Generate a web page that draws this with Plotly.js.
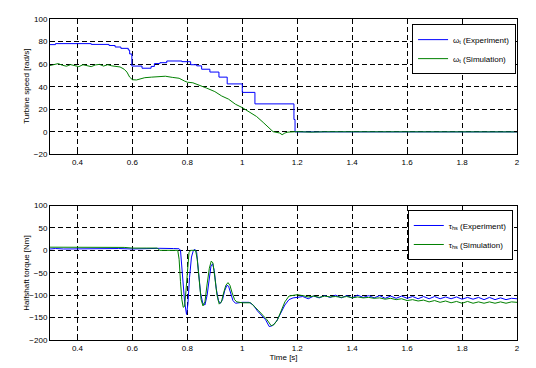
<!DOCTYPE html>
<html>
<head>
<meta charset="utf-8">
<script src="https://cdn.plot.ly/plotly-3.0.1.min.js"></script>
<style>html,body{margin:0;padding:0;background:#fff;}#chart{width:536px;height:368px;}</style>
</head>
<body>
<div id="chart"></div>
<script>
// ---- Top panel: turbine speed ----
var speedExpT = [0.3, 0.32, 0.45, 0.515, 0.537, 0.558, 0.585, 0.59, 0.598, 0.635, 0.668, 0.68, 0.70, 0.725, 0.78, 0.812, 0.834, 0.852, 0.882, 0.915, 0.945, 1.0, 1.046, 1.188, 1.192, 2.0];
var speedExpV = [77.3, 78.2, 77.5, 76.5, 75.2, 74, 72.5, 69, 58.3, 56.4, 58, 60.5, 61.3, 62.8, 62.2, 59.5, 58.5, 55.5, 53, 48.5, 42.5, 35, 24.8, 11, 0, 0];

var speedSimT = [0.30, 0.315, 0.33, 0.345, 0.36, 0.375, 0.39, 0.405, 0.42, 0.435, 0.45, 0.465, 0.48, 0.495, 0.51, 0.525, 0.54, 0.555, 0.57, 0.58, 0.59, 0.60, 0.615, 0.63, 0.645, 0.67, 0.70, 0.72, 0.745, 0.77, 0.79, 0.80, 0.82, 0.845, 0.87, 0.90, 0.925, 0.95, 0.975, 1.0, 1.028, 1.052, 1.076, 1.10, 1.112, 1.136, 1.145, 1.155, 1.166, 1.20, 1.25, 1.30, 2.0];
var speedSimV = [58.8, 59.5, 60.5, 59, 58.2, 59.6, 58.8, 57.8, 59.5, 58.5, 57.8, 59.3, 59.8, 58.3, 59.5, 58.5, 57.8, 57.5, 55.5, 53, 48.5, 46.2, 46, 46.8, 48, 48.5, 49, 49.3, 48.3, 47.5, 45, 44, 43.5, 41.3, 38.8, 35.7, 31.8, 29, 24.5, 21.5, 17, 13.6, 8.4, 3.5, 0.2, -1, -2.5, -1, -0.2, 0.2, -0.2, 0.1, 0];

// ---- Bottom panel: halfshaft torque ----
var torqueExpT = [0.30, 0.32, 0.35, 0.40, 0.45, 0.50, 0.55, 0.60, 0.65, 0.70, 0.75, 0.77, 0.775, 0.78, 0.785, 0.79, 0.797, 0.802, 0.808, 0.815, 0.822, 0.828, 0.834, 0.84, 0.848, 0.856, 0.864, 0.872, 0.88, 0.886, 0.892, 0.898, 0.905, 0.913, 0.92, 0.928, 0.936, 0.944, 0.95, 0.958, 0.966, 0.975, 0.985, 1.0, 1.025, 1.04, 1.055, 1.07, 1.085, 1.098, 1.11, 1.125, 1.14, 1.155, 1.17, 1.185, 1.20,
  1.22, 1.24, 1.26, 1.28, 1.30, 1.32, 1.34, 1.36, 1.38, 1.40, 1.42, 1.44, 1.46, 1.48, 1.50, 1.52, 1.54, 1.56, 1.58, 1.60, 1.62, 1.64, 1.66, 1.68, 1.70, 1.72, 1.74, 1.76, 1.78, 1.80, 1.82, 1.84, 1.86, 1.88, 1.90, 1.92, 1.94, 1.96, 1.98, 2.00];
var torqueExpV = [3, 4, 3, 3.5, 3, 3.5, 4, 3, 4, 4.5, 4, 3.5, 0, -40, -80, -115, -143, -120, -60, -15, 0, 2, -5, -45, -95, -118, -122, -100, -60, -35, -30, -45, -85, -112, -118, -110, -90, -78, -80, -95, -112, -118, -117, -116, -116, -122, -135, -145, -155, -170, -168, -158, -140, -122, -110, -106, -105,
  -103, -108, -102, -106, -101, -105, -100, -106, -101, -106, -100, -105, -101, -106, -101, -107, -102, -107, -102, -107, -103, -108, -103, -108, -103, -108, -104, -108, -104, -109, -105, -109, -105, -110, -105, -110, -106, -110, -107, -108];

var torqueSimT = [0.30, 0.35, 0.40, 0.45, 0.50, 0.54, 0.55, 0.57, 0.60, 0.62, 0.65, 0.69, 0.70, 0.765, 0.77, 0.775, 0.78, 0.785, 0.79, 0.795, 0.80, 0.806, 0.812, 0.83, 0.836, 0.843, 0.85, 0.857, 0.864, 0.872, 0.88, 0.887, 0.893, 0.90, 0.908, 0.916, 0.924, 0.932, 0.94, 0.948, 0.955, 0.963, 0.972, 0.98, 1.0, 1.03, 1.045, 1.06, 1.075, 1.09, 1.105, 1.115, 1.128, 1.14, 1.155, 1.17, 1.185, 1.20,
  1.22, 1.24, 1.26, 1.28, 1.30, 1.32, 1.34, 1.36, 1.38, 1.40, 1.42, 1.44, 1.46, 1.48, 1.50, 1.52, 1.54, 1.56, 1.58, 1.60, 1.62, 1.64, 1.66, 1.68, 1.70, 1.72, 1.74, 1.76, 1.78, 1.80, 1.82, 1.84, 1.86, 1.88, 1.90, 1.92, 1.94, 1.96, 1.98, 2.00];
var torqueSimV = [7, 7, 7, 7, 7, 7, 5.5, 6.5, 5, 5.5, 5, 5, 0, 0, -20, -70, -110, -127, -125, -90, -40, -5, 0, 0, -20, -70, -110, -124, -115, -75, -40, -24, -28, -60, -100, -120, -115, -95, -78, -72, -78, -95, -110, -115, -117, -117, -125, -135, -145, -155, -168, -166, -155, -138, -115, -102, -100, -99,
  -101, -104, -102, -105, -102, -104, -103, -105, -103, -106, -104, -106, -105, -107, -106, -109, -107, -110, -108, -112, -110, -113, -111, -115, -112, -116, -113, -117, -114, -118, -114, -118, -115, -118, -115, -118, -115, -118, -115, -116];

var speedTicks = [-20, 0, 20, 40, 60, 80, 100];
var torqueTicks = [-200, -150, -100, -50, 0, 50, 100];
var speedTitle = 'Turbine speed [rad/s]';
var torqueTitle = 'Halfshaft torque [Nm]';
var timeTitle = 'Time [s]';

var BLUE = '#0000ff', GREEN = '#008000';
var FONT = {family: 'Arial, Liberation Sans, sans-serif', size: 8, color: '#000'};

var traces = [
  {x: speedExpT, y: speedExpV, type: 'scatter', mode: 'lines', line: {color: BLUE, width: 1, shape: 'hv'}, name: 'ω<sub>t</sub> (Experiment)', xaxis: 'x', yaxis: 'y', legend: 'legend'},
  {x: speedSimT, y: speedSimV, type: 'scatter', mode: 'lines', line: {color: GREEN, width: 1}, name: 'ω<sub>t</sub> (Simulation)', xaxis: 'x', yaxis: 'y', legend: 'legend'},
  {x: torqueExpT, y: torqueExpV, type: 'scatter', mode: 'lines', line: {color: BLUE, width: 1}, name: 'τ<sub>hs</sub> (Experiment)', xaxis: 'x2', yaxis: 'y2', legend: 'legend2'},
  {x: torqueSimT, y: torqueSimV, type: 'scatter', mode: 'lines', line: {color: GREEN, width: 1}, name: 'τ<sub>hs</sub> (Simulation)', xaxis: 'x2', yaxis: 'y2', legend: 'legend2'}
];

function xax(extra) {
  var a = {range: [0.3, 2], tick0: 0, dtick: 0.2, showgrid: true, gridcolor: '#000', griddash: '5px,3px', gridwidth: 1,
    zeroline: false, showline: true, linecolor: '#000', linewidth: 1, mirror: 'ticks', ticks: 'inside', ticklen: 3, tickcolor: '#000',
    tickfont: FONT, fixedrange: true};
  for (var k in extra) a[k] = extra[k];
  return a;
}
function yax(extra) {
  var a = {showgrid: true, gridcolor: '#000', griddash: '5px,3px', gridwidth: 1,
    zeroline: false, showline: true, linecolor: '#000', linewidth: 1, mirror: 'ticks', ticks: 'inside', ticklen: 3, tickcolor: '#000',
    tickfont: FONT, fixedrange: true};
  for (var k in extra) a[k] = extra[k];
  return a;
}

var layout = {
  width: 536, height: 368,
  margin: {l: 50, r: 19, t: 19, b: 28},
  paper_bgcolor: '#fff', plot_bgcolor: '#fff',
  font: FONT,
  xaxis: xax({anchor: 'y'}),
  yaxis: yax({anchor: 'x', domain: [0.578, 1], range: [-20, 100], tickvals: speedTicks}),
  xaxis2: xax({anchor: 'y2', title: {text: timeTitle, font: FONT, standoff: 2}}),
  yaxis2: yax({anchor: 'x2', domain: [0, 0.419], range: [-200, 100], tickvals: torqueTicks}),
  annotations: [
    {text: speedTitle, xref: 'paper', yref: 'paper', x: -0.049, y: 0.789, xanchor: 'center', yanchor: 'middle', textangle: -90, showarrow: false, font: FONT},
    {text: torqueTitle, xref: 'paper', yref: 'paper', x: -0.049, y: 0.2095, xanchor: 'center', yanchor: 'middle', textangle: -90, showarrow: false, font: FONT}
  ],
  legend: {x: 0.998, xanchor: 'right', y: 0.984, yanchor: 'top', bgcolor: '#fff', bordercolor: '#000', borderwidth: 1, font: FONT, itemwidth: 30, tracegroupgap: 0},
  legend2: {x: 0.991, xanchor: 'right', y: 0.405, yanchor: 'top', bgcolor: '#fff', bordercolor: '#000', borderwidth: 1, font: FONT, itemwidth: 30, tracegroupgap: 0},
  showlegend: true
};

Plotly.newPlot('chart', traces, layout, {staticPlot: true, displayModeBar: false});
</script>
</body>
</html>
